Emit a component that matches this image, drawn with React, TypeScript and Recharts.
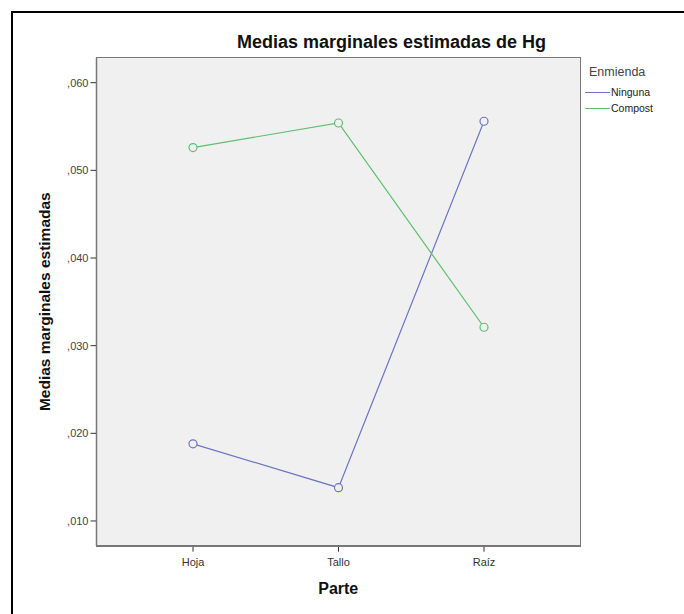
import { LineChart, Line, XAxis, YAxis, CartesianGrid, Legend, Label } from 'recharts'

const parts = ['Hoja', 'Tallo', 'Raíz']
const ninguna = [0.0188, 0.0138, 0.0556]
const compost = [0.0526, 0.0554, 0.0321]
const yTicks = [0.01, 0.02, 0.03, 0.04, 0.05, 0.06]
const seriesNames = ['Ninguna', 'Compost']

const data = parts.map((parte, i) => ({ parte, Ninguna: ninguna[i], Compost: compost[i] }))

const BLUE = '#6c74c4'
const GREEN = '#5cc070'
const FONT = '"Liberation Sans", Arial, sans-serif'

const fmt = (v: number) => ',' + v.toFixed(3).slice(2)

function LegendBox({ payload }: any) {
  const items = [...(payload || [])].sort(
    (a: any, b: any) => seriesNames.indexOf(a.value) - seriesNames.indexOf(b.value)
  )
  return (
    <div style={{ fontFamily: FONT }}>
      <div style={{ fontSize: 12.5, color: '#444', marginLeft: 4, lineHeight: '16px' }}>Enmienda</div>
      <div style={{ height: 4 }} />
      {items.map((p: any) => (
        <div key={p.value} style={{ display: 'flex', alignItems: 'center', height: 16 }}>
          <div style={{ width: 25, height: 0, borderTop: `1px solid ${p.color}` }} />
          <span style={{ fontSize: 10.5, color: '#222', marginLeft: 1 }}>{p.value}</span>
        </div>
      ))}
    </div>
  )
}

export default function App() {
  return (
    <div style={{ position: 'absolute', left: 0, top: 0, width: 684, height: 614, background: '#fff', overflow: 'hidden' }}>
      <div
        style={{
          position: 'absolute',
          left: 11,
          top: 11,
          width: 690,
          height: 620,
          borderTop: '2px solid #000',
          borderLeft: '2px solid #000',
        }}
      />
      <div
        style={{
          position: 'absolute',
          left: 0,
          width: 783,
          top: 32,
          textAlign: 'center',
          fontFamily: FONT,
          fontWeight: 'bold',
          fontSize: 18,
          color: '#111',
        }}
      >
        Medias marginales estimadas de Hg
      </div>
      <LineChart
        width={684}
        height={614}
        data={data}
        margin={{ top: 57.7, left: 56.5, right: 104, bottom: 38.3 }}
        style={{ position: 'absolute', left: 0, top: 0 }}
      >
        <CartesianGrid fill="#f0f0f0" horizontal={false} vertical={false} />
        <XAxis
          dataKey="parte"
          padding={{ left: 96.5, right: 96 }}
          tickSize={6}
          tickMargin={6}
          tick={{ fontSize: 11, fill: '#333', fontFamily: FONT }}
          tickLine={{ stroke: '#333' }}
          axisLine={{ stroke: '#777', strokeWidth: 1.5 }}
          height={30}
        >
          <Label
            value="Parte"
            position="bottom"
            offset={7}
            style={{ fontSize: 16, fontWeight: 'bold', fill: '#111', fontFamily: FONT }}
          />
        </XAxis>
        <YAxis
          width={40}
          domain={[0.00718, 0.06285]}
          ticks={yTicks}
          tickFormatter={fmt}
          tickSize={6}
          tick={{ fontSize: 11, fill: '#444', fontFamily: FONT }}
          tickLine={{ stroke: '#333' }}
          axisLine={{ stroke: '#777', strokeWidth: 1.5 }}
          allowDataOverflow
        >
          <Label
            value="Medias marginales estimadas"
            angle={-90}
            position="insideLeft"
            offset={-11.5}
            style={{ textAnchor: 'middle', fontSize: 15.5, fontWeight: 'bold', fill: '#111', fontFamily: FONT }}
          />
        </YAxis>
        <Legend
          layout="vertical"
          align="center"
          verticalAlign="middle"
          wrapperStyle={{ left: 585, top: 64, width: 95 }}
          content={<LegendBox />}
        />
        <Line
          dataKey="Ninguna"
          stroke={BLUE}
          strokeWidth={1.2}
          dot={{ r: 4, stroke: BLUE, strokeWidth: 1.2, fill: '#f0f0f0' }}
          isAnimationActive={false}
        />
        <Line
          dataKey="Compost"
          stroke={GREEN}
          strokeWidth={1.2}
          dot={{ r: 4, stroke: GREEN, strokeWidth: 1.2, fill: '#f0f0f0' }}
          isAnimationActive={false}
        />
      </LineChart>
      {/* plot frame */}
      <div
        style={{
          position: 'absolute',
          left: 95.75,
          top: 56.95,
          width: 483.5,
          height: 488,
          border: '1.5px solid #777',
          pointerEvents: 'none',
        }}
      />
    </div>
  )
}
